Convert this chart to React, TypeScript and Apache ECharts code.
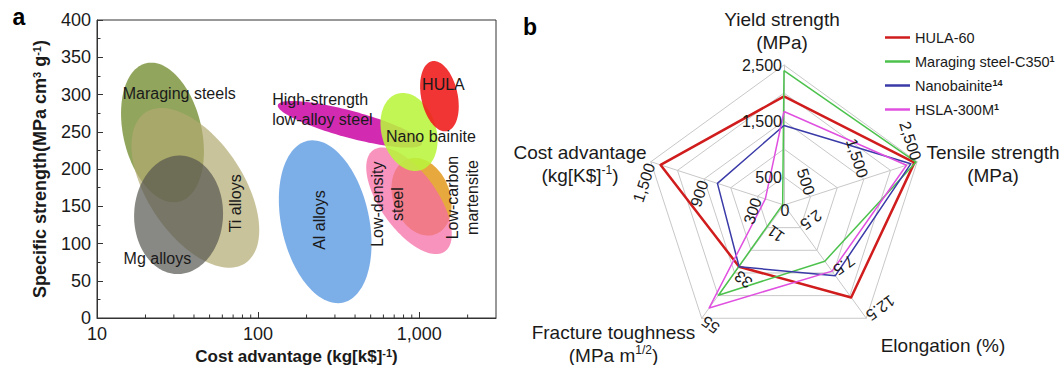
import React, { useEffect, useRef } from 'react';
import * as echarts from 'echarts';

// ---------------- Panel a: specific strength vs cost advantage ----------------
const regionNames = [
  'Maraging steels', 'Ti alloys', 'Mg alloys', 'Al alloys', 'High-strength low-alloy steel',
  'Low-carbon martensite', 'Low-density steel', 'Nano bainite', 'HULA',
];
// centre of each region (cost advantage, specific strength)
const regionCenterCost = [25.5, 40.8, 32.1, 261, 372, 1034, 865, 865, 1336];
const regionCenterStrength = [249, 174.7, 138.5, 129.2, 260, 162.8, 157.3, 249.7, 297.7];
// end of the long semi-axis of each region
const regionAxisEndCost = [20.2, 20.0, 33.1, 203, 132.7, 849, 518, 731, 1201];
const regionAxisEndStrength = [342, 275.8, 218, 237.8, 286, 213.3, 225.3, 301, 344.6];
// short / long semi-axis ratio
const regionWidthRatio = [0.55, 0.53, 0.75, 0.53, 0.18, 0.71, 0.46, 0.68, 0.51];
const regionColors = [
  'rgba(118,142,52,0.8)', 'rgba(178,170,112,0.7)', 'rgba(85,85,80,0.7)', 'rgba(110,165,230,0.9)',
  'rgba(205,20,170,0.9)', 'rgba(228,160,40,0.9)', 'rgba(245,105,165,0.72)', 'rgba(185,245,60,0.88)',
  'rgba(240,30,30,0.9)',
];

const labelTexts = [
  'Maraging steels', 'Ti alloys', 'Mg alloys', 'Al alloys', 'High-strength\nlow-alloy steel',
  'Nano bainite', 'HULA', 'Low-density\nsteel', 'Low-carbon\nmartensite',
];
const labelCost = [32.4, 72, 23.7, 240.7, 122.3, 1183, 1415, 637, 1865];
const labelStrength = [301.6, 154, 80, 131.5, 279.6, 243.4, 314, 152.8, 161.7];
const labelVertical = [false, true, false, true, false, false, false, true, true];
const labelLeftAligned = [false, false, false, false, true, false, false, false, false];

const majorCostTicks = [10, 100, 1000];
const minorCostTicks = [20, 30, 40, 50, 60, 70, 80, 90, 200, 300, 400, 500, 600, 700, 800, 900, 2000];

// ---------------- Panel b: radar ----------------
const radarAxes = ['Yield strength', 'Cost advantage', 'Fracture toughness', 'Elongation', 'Tensile strength'];
const radarMax = [2500, 1500, 55, 12.5, 2500];
const radarTickRings = [1, 3, 5];
const materials = ['HULA-60', 'Maraging steel-C350', 'Nanobainite', 'HSLA-300M'];
const materialRefs = ['', '1', '14', '1'];
const hula60 = [1940, 1390, 30, 10.2, 2450];
const maragingC350 = [2400, 15, 43.8, 6.2, 2480];
const nanobainite = [1420, 750, 30, 7.8, 2380];
const hsla300m = [1670, 210, 50, 7.3, 2300];
const materialValues = [hula60, maragingC350, nanobainite, hsla300m];
const materialColors = ['#d01c1c', '#4cc24c', '#3a3aa8', '#e050e0'];
const materialWidths = [2.5, 1.5, 1.5, 1.5];

const FONT = 'Liberation Sans, Arial, sans-serif';
const TXT = '#1a1a1a';
const R = 140, CX = 784, CY = 205;

function fmt(v: number) {
  return Number(v).toLocaleString('en-US', { maximumFractionDigits: 1 });
}

function buildOption(): any {
  const graphics: any[] = [];
  graphics.push({ type: 'text', x: 19, y: 17, z: 100, style: { text: 'a', font: `bold 23px ${FONT}`, fill: '#000', align: 'center', verticalAlign: 'middle' } });
  graphics.push({ type: 'text', x: 530, y: 27, z: 100, style: { text: 'b', font: `bold 23px ${FONT}`, fill: '#000', align: 'center', verticalAlign: 'middle' } });

  // radar names
  const supRich = { sup: { fontSize: 12, fontFamily: FONT, fill: TXT, verticalAlign: 'top', lineHeight: 23 } };
  const names = [
    { t: 'Yield strength\n(MPa)', x: CX - 2, y: 31 },
    { t: 'Cost advantage\n(kg[K$]{sup|-1})', x: 580, y: 163.5 },
    { t: 'Fracture toughness\n(MPa m{sup|1/2})', x: 613.5, y: 343.5 },
    { t: 'Elongation (%)', x: 943, y: 345 },
    { t: 'Tensile strength\n(MPa)', x: 993, y: 163.5 },
  ];
  names.forEach((n) => {
    graphics.push({
      type: 'text', x: n.x, y: n.y, z: 100,
      style: { text: n.t, fontSize: 19, fontFamily: FONT, fill: TXT, align: 'center', verticalAlign: 'middle', lineHeight: 23, rich: supRich },
    });
  });

  // radar tick labels
  radarAxes.forEach((_, i) => {
    const theta = ((90 + 72 * i) * Math.PI) / 180;
    const rho = theta - Math.PI / 2;
    const rx = Math.cos(rho), ry = -Math.sin(rho);
    radarTickRings.forEach((k) => {
      const r = (R * k) / 5;
      const px = CX + r * Math.cos(theta);
      const py = CY - r * Math.sin(theta);
      graphics.push({
        type: 'text', x: px - 2 * rx, y: py - 2 * ry, rotation: rho, z: 100,
        style: { text: fmt((radarMax[i] * k) / 5), fontSize: 16, fontFamily: FONT, fill: TXT, align: 'right', verticalAlign: 'middle' },
      });
    });
  });
  graphics.push({ type: 'text', x: CX + 1, y: CY + 5, z: 100, style: { text: '0', fontSize: 16, fontFamily: FONT, fill: TXT, align: 'center', verticalAlign: 'middle' } });

  const regionData = regionNames.map((_, i) => [
    regionCenterCost[i], regionCenterStrength[i], regionAxisEndCost[i], regionAxisEndStrength[i], regionWidthRatio[i],
  ]);
  const labelData = labelTexts.map((_, i) => [labelCost[i], labelStrength[i]]);
  const minorTickData = minorCostTicks.map((v) => [v, 0]);

  return {
    animation: false,
    textStyle: { fontFamily: FONT },
    grid: {
      left: 97, top: 20, width: 399, height: 298, show: true, borderColor: '#333', borderWidth: 1,
      backgroundColor: 'transparent', outerBoundsMode: 'none', containLabel: false,
    },
    xAxis: {
      type: 'log', logBase: 10, min: 10, max: 3000, position: 'bottom',
      axisLine: { lineStyle: { color: '#333', width: 1 } },
      axisTick: { inside: true, length: 6, customValues: majorCostTicks, lineStyle: { color: '#333' } },
      axisLabel: { customValues: majorCostTicks, formatter: (v: number) => fmt(Math.round(v)), fontSize: 18, color: TXT, margin: 7, fontFamily: FONT },
      splitLine: { show: false },
      name: 'Cost advantage (kg[k$]{sup|-1})', nameLocation: 'middle', nameGap: 27,
      nameTextStyle: { fontSize: 17, fontWeight: 'bold', color: TXT, fontFamily: FONT, rich: { sup: { fontSize: 11, fontWeight: 'bold', verticalAlign: 'top', fontFamily: FONT, color: TXT } } },
    },
    yAxis: {
      type: 'value', min: 0, max: 400, interval: 50,
      axisLine: { show: true, lineStyle: { color: '#333', width: 1 } },
      axisTick: { inside: true, length: 6, lineStyle: { color: '#333' } },
      minorTick: { show: true, splitNumber: 2, length: 3.5, lineStyle: { color: '#333' } },
      axisLabel: { fontSize: 18, color: TXT, margin: 6, fontFamily: FONT },
      splitLine: { show: false },
      name: 'Specific strength(MPa cm{sup|3} g{sup|-1})', nameLocation: 'middle', nameGap: 48,
      nameTextStyle: { fontSize: 18, fontWeight: 'bold', color: TXT, fontFamily: FONT, rich: { sup: { fontSize: 11, fontWeight: 'bold', verticalAlign: 'top', fontFamily: FONT, color: TXT } } },
    },
    radar: {
      center: [CX, CY], radius: R, startAngle: 90, splitNumber: 5, shape: 'polygon',
      indicator: radarAxes.map((n, i) => ({ name: n, min: 0, max: radarMax[i] })),
      axisName: { show: false },
      splitLine: { lineStyle: { color: '#c8c8c8', width: 1 } },
      splitArea: { show: false },
      axisLine: { lineStyle: { color: '#c8c8c8', width: 1 } },
      axisTick: { show: false }, axisLabel: { show: false },
    },
    legend: {
      orient: 'vertical', left: 880, top: 25, itemWidth: 25, itemHeight: 2.5, itemGap: 9,
      selectedMode: false,
      data: materials.map((m) => ({ name: m, icon: 'rect' })),
      formatter: (name: string) => {
        const i = materials.indexOf(name);
        return materialRefs[i] ? `${name}{s|${materialRefs[i]}}` : name;
      },
      textStyle: { fontSize: 14.5, color: TXT, fontFamily: FONT, rich: { s: { fontSize: 9, fontWeight: 'bold', verticalAlign: 'top', fontFamily: FONT, color: TXT } } },
    },
    graphic: { elements: graphics },
    series: [
      {
        type: 'custom', name: 'regions', silent: true, z: 2,
        data: regionData, encode: { x: [0, 2], y: [1, 3] },
        renderItem: (params: any, api: any) => {
          const c = api.coord([api.value(0), api.value(1)]);
          const e = api.coord([api.value(2), api.value(3)]);
          const k = api.value(4);
          const ux = e[0] - c[0], uy = e[1] - c[1];
          const vx = -uy * k, vy = ux * k;
          const pts: number[][] = [];
          for (let t = 0; t < 120; t++) {
            const a = (t / 120) * Math.PI * 2;
            pts.push([c[0] + Math.cos(a) * ux + Math.sin(a) * vx, c[1] + Math.cos(a) * uy + Math.sin(a) * vy]);
          }
          return { type: 'polygon', shape: { points: pts }, style: { fill: regionColors[params.dataIndex] } };
        },
      },
      {
        type: 'custom', name: 'minorTicks', silent: true, z: 4,
        data: minorTickData, encode: { x: 0, y: 1 },
        renderItem: (params: any, api: any) => {
          const p = api.coord([api.value(0), api.value(1)]);
          return { type: 'line', shape: { x1: p[0], y1: p[1], x2: p[0], y2: p[1] - 3.5 }, style: { stroke: '#333', lineWidth: 1 } };
        },
      },
      {
        type: 'custom', name: 'labels', silent: true, z: 3,
        data: labelData, encode: { x: 0, y: 1 },
        renderItem: (params: any, api: any) => {
          const i = params.dataIndex;
          const p = api.coord([api.value(0), api.value(1)]);
          return {
            type: 'text', x: p[0], y: p[1], rotation: labelVertical[i] ? Math.PI / 2 : 0,
            style: {
              text: labelTexts[i], fontSize: 16, fontFamily: FONT, fill: TXT,
              align: labelLeftAligned[i] ? 'left' : 'center', verticalAlign: 'middle', lineHeight: 20,
            },
          };
        },
      },
      ...materials.map((m, i) => ({
        type: 'radar', name: m, symbol: 'none', z: 5,
        itemStyle: { color: materialColors[i] },
        lineStyle: { color: materialColors[i], width: materialWidths[i] },
        data: [{ name: m, value: materialValues[i] }],
      })),
    ],
  };
}

export default function App() {
  const ref = useRef<HTMLDivElement>(null);
  useEffect(() => {
    document.body.style.margin = '0';
    const chart = echarts.init(ref.current!, undefined, { renderer: 'svg' });
    chart.setOption(buildOption());
    return () => chart.dispose();
  }, []);
  return <div ref={ref} style={{ position: 'absolute', left: 0, top: 0, width: 1063, height: 365 }} />;
}
